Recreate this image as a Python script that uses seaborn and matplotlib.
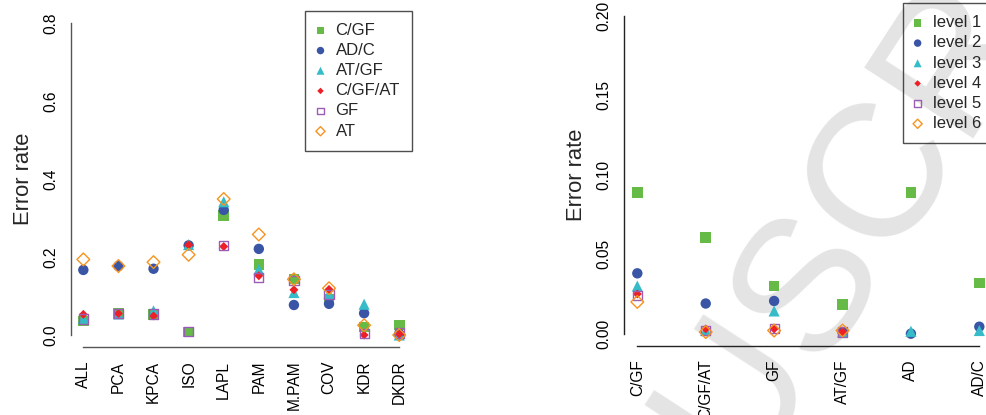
import numpy as np
import pandas as pd
import matplotlib
matplotlib.use("Agg")
import matplotlib.pyplot as plt
import seaborn as sns

# ---------------- data ----------------
methods = ["ALL", "PCA", "KPCA", "ISO", "LAPL", "PAM", "M.PAM", "COV", "KDR", "DKDR"]
left_series = ["C/GF", "AD/C", "AT/GF", "C/GF/AT", "GF", "AT"]
cgf_vals = [0.036, 0.055, 0.052, 0.008, 0.306, 0.181, 0.144, 0.092, 0.021, 0.026]
adc_vals = [0.167, 0.177, 0.170, 0.230, 0.321, 0.221, 0.077, 0.080, 0.056, 0.003]
atgf_vals = [0.043, 0.054, 0.062, 0.232, 0.342, 0.168, 0.109, 0.106, 0.079, 0.000]
cgfat_vals = [0.053, 0.055, 0.049, 0.231, 0.227, 0.152, 0.116, 0.117, 0.000, 0.002]
gf_vals = [0.041, 0.055, 0.054, 0.008, 0.229, 0.147, 0.140, 0.104, 0.004, 0.005]
at_vals = [0.194, 0.177, 0.187, 0.206, 0.349, 0.258, 0.143, 0.120, 0.025, 0.000]

combos = ["C/GF", "C/GF/AT", "GF", "AT/GF", "AD", "AD/C"]
right_series = ["level 1", "level 2", "level 3", "level 4", "level 5", "level 6"]
level1 = [0.089, 0.0605, 0.030, 0.0185, 0.089, 0.0318]
level2 = [0.038, 0.019, 0.0206, 0.001, 0.000, 0.0044]
level3 = [0.030, 0.002, 0.0143, 0.001, 0.0015, 0.002]
level4 = [0.025, 0.003, 0.003, 0.0012, np.nan, np.nan]
level5 = [0.024, 0.002, 0.0035, 0.001, np.nan, np.nan]
level6 = [0.020, 0.001, 0.002, 0.002, np.nan, np.nan]

left_ticks = [0.0, 0.2, 0.4, 0.6, 0.8]
right_ticks = [0.00, 0.05, 0.10, 0.15, 0.20]

# ---------------- style ----------------
sns.set_style("white")
plt.rcParams["font.family"] = ["Liberation Sans", "DejaVu Sans"]

colors = ["#66bb47", "#3a55a6", "#36bcc8", "#ee1f26", "#9a5db3", "#f7931e"]
markers = ["s", "o", "^", "D", "s", "D"]
sizes = [58, 56, 64, 21, 44, 42]
filled = [True, True, True, True, False, False]

fig = plt.figure(figsize=(9.86, 4.15), dpi=100)

# watermark (behind everything)
fig.text(0.517, -0.997, "MANUSCRIPT", rotation=57, rotation_mode="anchor",
         ha="left", va="baseline", fontsize=137, color="#e4e4e4", zorder=-10)

ax1 = fig.add_axes([0.0717, 0.1627, 0.3460, 0.8113])
ax2 = fig.add_axes([0.6325, 0.1653, 0.3746, 0.8267])


def draw_panel(ax, cats, series_names, series_vals, ticks, fmt, spine_col):
    ax.set_facecolor("none")
    for name, vals, c, m, s, f in zip(series_names, series_vals, colors, markers, sizes, filled):
        df = pd.DataFrame({"x": cats, "y": vals})
        if f:
            sns.scatterplot(data=df, x="x", y="y", ax=ax, marker=m, s=s, color=c,
                            edgecolor="none", linewidth=0, label=name, zorder=3)
        else:
            sns.scatterplot(data=df, x="x", y="y", ax=ax, marker=m, s=s,
                            facecolor="none", edgecolor=c, linewidth=1.0,
                            label=name, zorder=3)
    n = len(cats)
    ext = 0.04 * (n - 1)
    ax.set_xlim(-ext, n - 1 + ext)
    rng = ticks[-1] - ticks[0]
    ax.set_ylim(ticks[0] - 0.04 * rng, ticks[-1] + 0.04 * rng)
    ax.set_yticks(ticks)
    ax.set_yticklabels([fmt.format(t) for t in ticks])
    ax.set_xticks(range(n))
    ax.set_xticklabels(cats)
    for sp in ["top", "right"]:
        ax.spines[sp].set_visible(False)
    ax.spines["left"].set_bounds(ticks[0], ticks[-1])
    ax.spines["bottom"].set_bounds(0, n - 1)
    for sp in ["left", "bottom"]:
        ax.spines[sp].set_color(spine_col)
        ax.spines[sp].set_linewidth(1.0)
    ax.tick_params(axis="both", direction="out", length=5, width=1.0,
                   color=spine_col, labelsize=11.2, labelcolor="black")
    ax.tick_params(axis="y", pad=3.8)
    ax.tick_params(axis="x", pad=4.5)
    for lab in ax.get_yticklabels():
        lab.set_rotation(90)
        lab.set_va("center")
    for lab in ax.get_xticklabels():
        lab.set_rotation(90)
    ax.set_xlabel("")
    ax.set_ylabel("Error rate", fontsize=15.8)
    leg = ax.legend(loc="upper right", bbox_to_anchor=(1, 1), borderaxespad=0,
                    frameon=True, fancybox=False, fontsize=12, markerscale=0.72,
                    handlelength=0.36, handletextpad=0.72, borderpad=0.72,
                    labelspacing=0.31, scatterpoints=1)
    leg.get_frame().set_edgecolor("#222222")
    leg.get_frame().set_linewidth(1.0)
    leg.get_frame().set_facecolor("none")
    return ax


draw_panel(ax1, methods, left_series,
           [cgf_vals, adc_vals, atgf_vals, cgfat_vals, gf_vals, at_vals],
           left_ticks, "{:.1f}", "#555555")
draw_panel(ax2, combos, right_series,
           [level1, level2, level3, level4, level5, level6],
           right_ticks, "{:.2f}", "#222222")

ax1.yaxis.set_label_coords(-0.1076, 0.5)
ax2.yaxis.set_label_coords(-0.100, 0.5)

fig.savefig("out.png", dpi=100)
